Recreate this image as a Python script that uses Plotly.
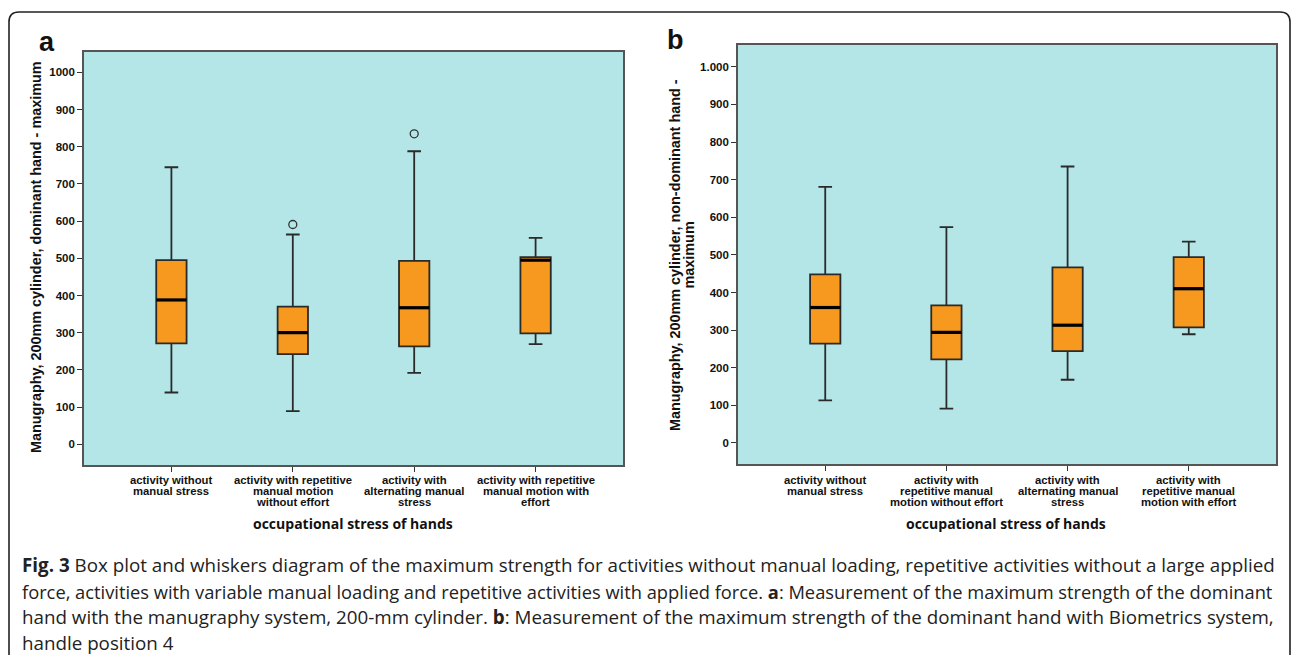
import plotly.graph_objects as go

# ---- data ----
cats_a = ["activity without<br>manual stress",
          "activity with repetitive<br>manual motion<br>without effort",
          "activity with<br>alternating manual<br>stress",
          "activity with repetitive<br>manual motion with<br>effort"]
cats_b = ["activity without<br>manual stress",
          "activity with<br>repetitive manual<br>motion without effort",
          "activity with<br>alternating manual<br>stress",
          "activity with<br>repetitive manual<br>motion with effort"]

a_low = [139, 89, 192, 269]
a_q1 = [271, 242, 263, 298]
a_med = [388, 300, 367, 495]
a_q3 = [495, 370, 493, 503]
a_high = [745, 564, 788, 555]
a_out_x = [1, 2]
a_out_y = [591, 835]

b_low = [113, 91, 168, 289]
b_q1 = [264, 222, 244, 307]
b_med = [360, 294, 313, 410]
b_q3 = [448, 366, 467, 494]
b_high = [681, 574, 735, 535]

ytick_vals = [0, 100, 200, 300, 400, 500, 600, 700, 800, 900, 1000]
ytick_a = ["0", "100", "200", "300", "400", "500", "600", "700", "800", "900", "1000"]
ytick_b = ["0", "100", "200", "300", "400", "500", "600", "700", "800", "900", "1.000"]

caption_lines = [
    "<b>Fig. 3</b> Box plot and whiskers diagram of the maximum strength for activities without manual loading, repetitive activities without a large applied",
    "force, activities with variable manual loading and repetitive activities with applied force. <b>a</b>: Measurement of the maximum strength of the dominant",
    "hand with the manugraphy system, 200-mm cylinder. <b>b</b>: Measurement of the maximum strength of the dominant hand with Biometrics system,",
    "handle position 4",
]

# ---- style ----
W, H = 1292, 655
BG = "#b5e6e7"
ORANGE = "#f7991e"
EDGE = "#2a2a2a"
FONT = "Liberation Sans, Arial, sans-serif"
BOXW = 0.25

fig = go.Figure()

def add_panel(xa, ya, low, q1, med, q3, high, outx=None, outy=None):
    xs = list(range(len(med)))
    fig.add_trace(go.Box(
        x=xs, q1=q1, median=med, q3=q3, lowerfence=low, upperfence=high,
        width=BOXW, whiskerwidth=0.45, fillcolor=ORANGE,
        line=dict(color=EDGE, width=1.8), boxpoints=False,
        xaxis=xa, yaxis=ya, showlegend=False, hoverinfo="y"))
    mx, my = [], []
    for i, m in zip(xs, med):
        mx += [i - BOXW / 2, i + BOXW / 2, None]
        my += [m, m, None]
    fig.add_trace(go.Scatter(x=mx, y=my, mode="lines",
                             line=dict(color="#000", width=3.2),
                             xaxis=xa, yaxis=ya, showlegend=False, hoverinfo="skip"))
    if outx:
        fig.add_trace(go.Scatter(x=outx, y=outy, mode="markers",
                                 marker=dict(symbol="circle-open", size=8,
                                             color="#333", line=dict(width=1.3)),
                                 xaxis=xa, yaxis=ya, showlegend=False))

add_panel("x", "y", a_low, a_q1, a_med, a_q3, a_high, a_out_x, a_out_y)
add_panel("x2", "y2", b_low, b_q1, b_med, b_q3, b_high)

tickfont = dict(family=FONT, size=11.5, color="#111", weight="bold")
common_x = dict(range=[-0.72, 3.72], tickvals=[0, 1, 2, 3], ticks="outside",
                ticklen=5, tickcolor="#333", showline=True, mirror=True,
                linecolor="#555", linewidth=1.6, showgrid=False, zeroline=False,
                showticklabels=False)
common_y = dict(tickvals=ytick_vals, ticks="outside", ticklen=5, tickcolor="#333",
                showline=True, mirror=True, linecolor="#555", linewidth=1.6,
                showgrid=False, zeroline=False, tickfont=tickfont)

fig.update_layout(
    width=W, height=H, margin=dict(l=0, r=0, t=0, b=0),
    paper_bgcolor="white", plot_bgcolor=BG, showlegend=False,
    xaxis=dict(domain=[84 / W, 623 / W], anchor="y", **common_x),
    yaxis=dict(domain=[1 - 465 / H, 1 - 52 / H], range=[-56, 1055],
               ticktext=ytick_a, anchor="x", **common_y),
    xaxis2=dict(domain=[738 / W, 1276 / W], anchor="y2", **common_x),
    yaxis2=dict(domain=[1 - 464 / H, 1 - 45 / H], range=[-56, 1058],
                ticktext=ytick_b, anchor="x2", **common_y),
)

ann = []
def px(x):
    return x / W
def py(y):
    return 1 - y / H

# category labels (compact line spacing, positioned on the category axis)
for xref, cats in (("x", cats_a), ("x2", cats_b)):
    for i, lab in enumerate(cats):
        for k, part in enumerate(lab.split("<br>")):
            ann.append(dict(x=i, xref=xref, y=py(480 + 10.8 * k), yref="paper",
                            text=part, xanchor="center",
                            font=dict(family=FONT, size=11.3, color="#111", weight="bold")))

# panel letters
ann.append(dict(x=px(47), y=py(42), text="<b>a</b>", font=dict(family=FONT, size=27, color="#111")))
ann.append(dict(x=px(675), y=py(40), text="<b>b</b>", font=dict(family=FONT, size=27, color="#111")))
# y titles
ann.append(dict(x=px(36), y=py(257), text="<b>Manugraphy, 200mm cylinder, dominant hand - maximum</b>",
                textangle=-90, font=dict(family=FONT, size=14.4, color="#111")))
ann.append(dict(x=px(675), y=py(255),
                text="<b>Manugraphy, 200mm cylinder, non-dominant hand -</b>",
                textangle=-90, font=dict(family=FONT, size=14.4, color="#111")))
ann.append(dict(x=px(688.5), y=py(255), text="<b>maximum</b>",
                textangle=-90, font=dict(family=FONT, size=14.4, color="#111")))
# x titles
ann.append(dict(x=px(353), y=py(523), text="<b>occupational stress of hands</b>",
                font=dict(family="Open Sans, sans-serif", size=14, color="#111")))
ann.append(dict(x=px(1006), y=py(523), text="<b>occupational stress of hands</b>",
                font=dict(family="Open Sans, sans-serif", size=14, color="#111")))
# caption (sizes per line approximate the justified block)
cap_sizes = [18.8, 18.3, 18.8, 18.8]
for i, line in enumerate(caption_lines):
    ann.append(dict(x=px(20), y=py(565 + 26 * i), text=line, xanchor="left",
                    font=dict(family="Open Sans, sans-serif", size=cap_sizes[i], color="#222")))

for a in ann:
    a.setdefault("xanchor", "center")
    a.setdefault("xref", "paper")
    a.setdefault("yref", "paper")
    a.update(yanchor="middle", showarrow=False)
fig.update_layout(annotations=ann)

# outer rounded frame (extends below the page)
r = 10
path = (f"M {px(9)},{py(700)} L {px(9)},{py(12 + r)} Q {px(9)},{py(12)} {px(9 + r)},{py(12)} "
        f"L {px(1290 - r)},{py(12)} Q {px(1290)},{py(12)} {px(1290)},{py(12 + r)} L {px(1290)},{py(700)}")
fig.add_shape(type="path", path=path, xref="paper", yref="paper",
              line=dict(color="#222", width=1.6))

fig.write_html("out.html", config={"displayModeBar": False},
               post_script="document.body.style.margin='0';document.body.style.overflow='hidden';")
